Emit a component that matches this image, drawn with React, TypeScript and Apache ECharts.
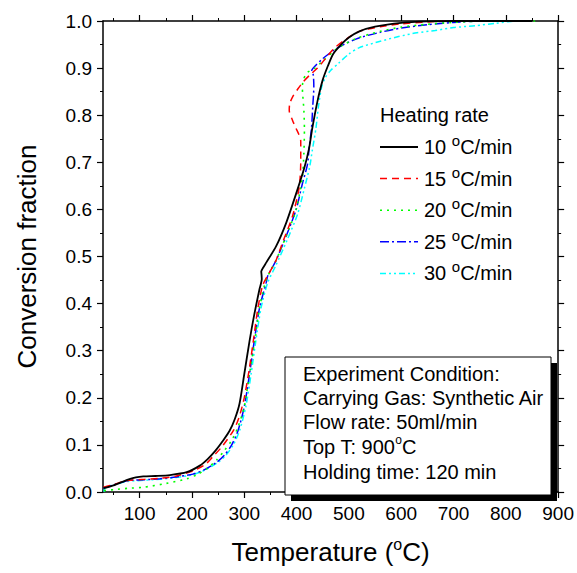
import React, { useEffect, useRef } from "react";
import * as echarts from "echarts";

// ---- Data ----
const T_10 = [31, 50, 82, 107, 130, 158, 190, 215, 230, 245, 260, 272, 282, 291, 300, 310, 319, 329, 333.5, 333, 332.5, 336, 342, 361, 380, 399, 415, 424, 430, 440, 450, 460, 470, 485, 500, 520, 550, 600, 650, 700, 850];
const F_10 = [0.008, 0.014, 0.028, 0.033, 0.034, 0.036, 0.042, 0.056, 0.07, 0.088, 0.11, 0.13, 0.155, 0.188, 0.25, 0.32, 0.376, 0.43, 0.452, 0.462, 0.468, 0.476, 0.487, 0.522, 0.571, 0.633, 0.689, 0.73, 0.772, 0.83, 0.875, 0.905, 0.93, 0.95, 0.965, 0.978, 0.988, 0.996, 0.999, 1.0, 1.0];

const T_15 = [31, 50, 76, 110, 139, 170, 202, 225, 240, 255, 268, 280, 290, 300, 310, 319, 326, 335, 345, 360, 373, 392, 405, 408, 408, 404, 399, 392, 386, 387, 393, 402, 412, 425, 440, 455, 470, 490, 520, 560, 600, 650, 700, 850];
const F_15 = [0.01, 0.016, 0.024, 0.027, 0.029, 0.034, 0.045, 0.058, 0.075, 0.093, 0.112, 0.132, 0.158, 0.2, 0.264, 0.334, 0.39, 0.438, 0.46, 0.49, 0.529, 0.585, 0.647, 0.703, 0.745, 0.76, 0.772, 0.79, 0.81, 0.825, 0.84, 0.855, 0.87, 0.885, 0.9, 0.92, 0.94, 0.958, 0.978, 0.988, 0.994, 0.998, 1.0, 1.0];

const T_20 = [32, 50, 80, 107, 150, 190, 210, 228, 247, 262, 275, 287, 300, 310, 320, 329, 340, 345, 360, 380, 399, 411, 414, 415, 414, 412, 411, 413, 420, 435, 450, 470, 490, 519, 560, 600, 650, 700, 760, 860];
const F_20 = [0.003, 0.005, 0.008, 0.01, 0.018, 0.028, 0.037, 0.049, 0.068, 0.088, 0.108, 0.135, 0.181, 0.25, 0.32, 0.39, 0.445, 0.459, 0.49, 0.543, 0.599, 0.668, 0.72, 0.77, 0.81, 0.84, 0.86, 0.875, 0.89, 0.9, 0.915, 0.935, 0.95, 0.965, 0.978, 0.987, 0.993, 0.997, 1.0, 1.0];

const T_25 = [31, 50, 76, 107, 139, 170, 202, 225, 247, 262, 276, 288, 300, 310, 319, 329, 342, 345, 360, 380, 399, 411, 421, 424, 428.5, 431, 433, 432, 429, 436, 450, 470, 490, 519, 560, 600, 650, 700, 750, 850];
const F_25 = [0.008, 0.015, 0.024, 0.026, 0.028, 0.032, 0.038, 0.048, 0.063, 0.078, 0.1, 0.13, 0.181, 0.25, 0.32, 0.39, 0.445, 0.459, 0.49, 0.543, 0.599, 0.654, 0.696, 0.731, 0.772, 0.82, 0.86, 0.885, 0.895, 0.905, 0.92, 0.937, 0.95, 0.964, 0.976, 0.985, 0.992, 0.997, 1.0, 1.0];

const T_30 = [32, 34, 50, 76, 107, 139, 170, 202, 225, 250, 265, 279, 291, 303, 313, 322, 332, 345, 360, 382, 402, 415, 425, 430, 437, 442, 448, 455, 465, 480, 500, 519, 560, 595, 630, 665, 700, 741, 780, 820, 850];
const F_30 = [0.0, 0.01, 0.015, 0.022, 0.025, 0.027, 0.031, 0.037, 0.047, 0.063, 0.078, 0.1, 0.13, 0.181, 0.25, 0.32, 0.39, 0.445, 0.48, 0.535, 0.59, 0.645, 0.69, 0.725, 0.772, 0.82, 0.86, 0.88, 0.895, 0.91, 0.93, 0.943, 0.957, 0.967, 0.975, 0.98, 0.986, 0.99, 0.995, 1.0, 1.0];

const RATES = ["10", "15", "20", "25", "30"];
const X_MAJOR = [100, 200, 300, 400, 500, 600, 700, 800, 900];
const X_MINOR = [50, 150, 250, 350, 450, 550, 650, 750, 850];
const BOX_LINES = [
  "Experiment Condition:",
  "Carrying Gas: Synthetic Air",
  "Flow rate: 50ml/min",
  "Top T: 900{s|o}C",
  "Holding time: 120 min",
];

const FONT = '"Liberation Sans", Arial, Helvetica, sans-serif';
const COLORS = ["#000000", "#ff0000", "#00ff00", "#0000ff", "#00ffff"];
const DASHES: (number[] | null)[] = [null, [7, 5], [2, 5], [9, 3, 2, 3], [6, 3, 2, 3, 2, 3]];
const WIDTHS = [1.8, 1.5, 1.6, 1.5, 1.5];

const zip = (t: number[], f: number[]) => t.map((v, i) => [v, f[i]]);
const SERIES_DATA = [zip(T_10, F_10), zip(T_15, F_15), zip(T_20, F_20), zip(T_25, F_25), zip(T_30, F_30)];

export default function App() {
  const ref = useRef<HTMLDivElement>(null);
  useEffect(() => {
    if (!ref.current) return;
    const chart = echarts.init(ref.current, null, { renderer: "svg" });
    const axisLine = { show: true, lineStyle: { color: "#000", width: 1.5 } };
    const xCommon = { type: "value", min: 30, max: 900, gridIndex: 0, splitLine: { show: false } };
    const yCommon = { type: "value", min: 0, max: 1, interval: 0.1, gridIndex: 0, splitLine: { show: false } };

    const legendGraphics: any[] = [
      {
        type: "text",
        x: 380,
        y: 115,
        z: 100,
        style: { text: "Heating rate", font: `20px ${FONT}`, fill: "#000", align: "left", verticalAlign: "middle" },
      },
    ];
    RATES.forEach((r, i) => {
      const y = 147 + i * 31.6;
      legendGraphics.push({
        type: "line",
        z: 100,
        shape: { x1: 380, y1: y, x2: 418, y2: y },
        style: { stroke: COLORS[i], lineWidth: WIDTHS[i], lineDash: DASHES[i] || undefined },
      });
      legendGraphics.push({
        type: "text",
        x: 424,
        y: y,
        z: 100,
        style: {
          text: `${r} {s|o}C/min`,
          font: `20px ${FONT}`,
          fill: "#000",
          align: "left",
          verticalAlign: "middle",
          lineHeight: 28,
          rich: { s: { fontSize: 15, fontFamily: FONT, verticalAlign: "top", lineHeight: 28, fill: "#000" } },
        },
      });
    });

    const boxGraphics: any[] = [
      { type: "rect", z: 100, shape: { x: 291, y: 363, width: 266, height: 138 }, style: { fill: "#000" } },
      { type: "rect", z: 101, shape: { x: 285, y: 357, width: 266, height: 138 }, style: { fill: "#fff", stroke: "#000", lineWidth: 1 } },
    ];
    const lineY = [374, 398, 422, 447, 472];
    BOX_LINES.forEach((t, i) => {
      boxGraphics.push({
        type: "text",
        x: 303,
        y: lineY[i],
        z: 102,
        style: {
          text: t,
          font: `20px ${FONT}`,
          fill: "#000",
          align: "left",
          verticalAlign: "middle",
          lineHeight: 26,
          rich: { s: { fontSize: 12, fontFamily: FONT, verticalAlign: "top", lineHeight: 26, fill: "#000" } },
        },
      });
    });

    chart.setOption({
      animation: false,
      grid: { left: 103, right: 17, top: 21, bottom: 73, containLabel: false },
      xAxis: [
        {
          ...xCommon,
          position: "bottom",
          axisLine,
          axisTick: { show: true, length: 6, customValues: X_MAJOR, lineStyle: { color: "#000", width: 1.2 } },
          axisLabel: { show: true, customValues: X_MAJOR, fontSize: 19, fontFamily: FONT, color: "#000", margin: 12 },
          name: "Temperature ({s|o}C)",
          nameLocation: "middle",
          nameGap: 44,
          nameTextStyle: {
            fontSize: 26,
            fontFamily: FONT,
            color: "#000",
            lineHeight: 32,
            rich: { s: { fontSize: 16, fontFamily: FONT, verticalAlign: "top", lineHeight: 32, color: "#000" } },
          },
        },
        {
          ...xCommon,
          position: "bottom",
          axisLine: { show: false },
          axisTick: { show: true, length: 3, customValues: X_MINOR, lineStyle: { color: "#000", width: 1 } },
          axisLabel: { show: false },
        },
        {
          ...xCommon,
          position: "top",
          axisLine,
          axisTick: { show: true, length: 6, customValues: X_MAJOR, lineStyle: { color: "#000", width: 1.2 } },
          axisLabel: { show: false },
        },
        {
          ...xCommon,
          position: "top",
          axisLine: { show: false },
          axisTick: { show: true, length: 3, customValues: X_MINOR, lineStyle: { color: "#000", width: 1 } },
          axisLabel: { show: false },
        },
      ],
      yAxis: [
        {
          ...yCommon,
          position: "left",
          axisLine,
          axisTick: { show: true, length: 6, lineStyle: { color: "#000", width: 1.2 } },
          minorTick: { show: true, splitNumber: 2, length: 3, lineStyle: { color: "#000", width: 1 } },
          axisLabel: { fontSize: 19, fontFamily: FONT, color: "#000", margin: 11, formatter: (v: number) => v.toFixed(1) },
          name: "Conversion fraction",
          nameLocation: "middle",
          nameGap: 63,
          nameTextStyle: { fontSize: 26, fontFamily: FONT, color: "#000" },
        },
        {
          ...yCommon,
          position: "right",
          axisLine,
          axisTick: { show: true, length: 6, lineStyle: { color: "#000", width: 1.2 } },
          minorTick: { show: true, splitNumber: 2, length: 3, lineStyle: { color: "#000", width: 1 } },
          axisLabel: { show: false },
        },
      ],
      series: SERIES_DATA.map((d, i) => ({
        type: "line",
        name: `${RATES[i]} oC/min`,
        xAxisIndex: 0,
        yAxisIndex: 0,
        data: d,
        showSymbol: false,
        symbol: "none",
        smooth: 0.25,
        z: 5 - i + 2,
        lineStyle: { color: COLORS[i], width: WIDTHS[i], type: DASHES[i] || "solid" },
      })),
      graphic: [...legendGraphics, ...boxGraphics],
    });
    return () => chart.dispose();
  }, []);
  return (
    <div
      ref={ref}
      style={{ position: "absolute", left: 0, top: 0, width: 577, height: 573, background: "#fff" }}
    />
  );
}
